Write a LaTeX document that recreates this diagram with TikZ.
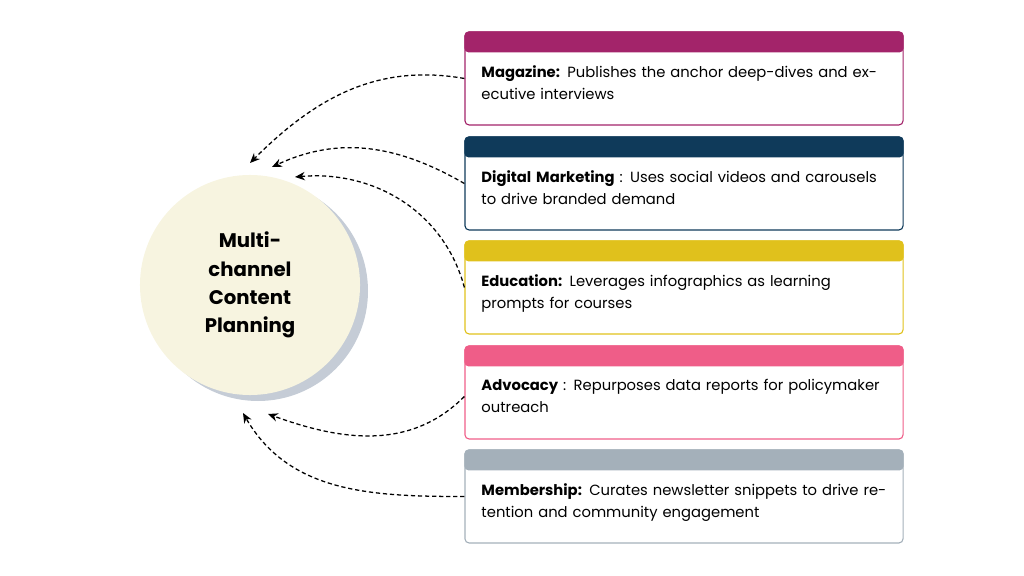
\documentclass[tikz,border=0pt]{standalone}
\usepackage{fontspec}
\setmainfont{Poppins}
\usetikzlibrary{arrows.meta}
\usetikzlibrary{positioning}
\definecolor{magcol}{HTML}{A3246A}
\definecolor{digcol}{HTML}{0F3A5A}
\definecolor{educol}{HTML}{E0C11C}
\definecolor{advcol}{HTML}{EF5D88}
\definecolor{memcol}{HTML}{A4B0BA}
\definecolor{hubfill}{HTML}{F7F4E0}
\definecolor{hubshadow}{HTML}{C5CCD6}
\tikzset{
  channel/.style={draw=#1, line width=0.8pt, rounded corners=3pt, minimum width=10.95cm, minimum height=2.325cm},
  channeltext/.style={anchor=north west, text width=10.3cm, align=left, font=\fontsize{10.5}{15.5}\selectfont, inner sep=0pt},
  flow/.style={densely dashed, line width=0.9pt, -{Stealth[length=7pt,width=6pt]}}
}
\begin{document}
\begin{tikzpicture}[x=0.025cm, y=-0.025cm]
		\useasboundingbox (0,0) rectangle (1024,576);
		% hub circle with shadow
		\fill[hubshadow] (258,291) circle (110);
		\node (hub) at (250,285) [circle, fill=hubfill, minimum size=5.5cm, align=center, font=\bfseries\fontsize{14}{20}\selectfont] {Multi-\\channel\\Content\\Planning};

		% channel boxes
		\foreach \y/\nm/\col/\head/\body in {
			32/mag/magcol/Magazine:/{Publishes the anchor deep-dives and executive interviews},
			137/dig/digcol/Digital Marketing/{: Uses social videos and carousels to drive branded demand},
			241/edu/educol/Education:/{Leverages infographics as learning prompts for courses},
			346/adv/advcol/Advocacy/{: Repurposes data reports for policymaker outreach},
			450/mem/memcol/Membership:/{Curates newsletter snippets to drive retention and community engagement}} {
			\node (\nm) at (684,\y+46.5) [channel=\col] {};
			\fill[\col, rounded corners=3pt] (\nm.north west) rectangle ([yshift=-0.525cm]\nm.north east);
			\node (\nm-text) at ([xshift=0.42cm, yshift=-0.85cm]\nm.north west) [channeltext] {\textbf{\head} \body};
		}

		% arrow ends near the hub
		\coordinate (mag-end) at (250,163);
		\coordinate (dig-end) at (272,167);
		\coordinate (edu-end) at (295,177);
		\coordinate (adv-end) at (268,414);
		\coordinate (mem-end) at (243,413);

		\draw[flow] (mag.west) to[out=170, in=45] (mag-end);
		\draw[flow] (dig.west) to[out=150, in=25] (dig-end);
		\draw[flow] (edu.west) to[out=105, in=5] (edu-end);
		\draw[flow] ([yshift=-0.1cm]adv.west) to[out=225, in=-20] (adv-end);
		\draw[flow] (mem.west) to[out=180, in=-60] (mem-end);
	\end{tikzpicture}
\end{document}
